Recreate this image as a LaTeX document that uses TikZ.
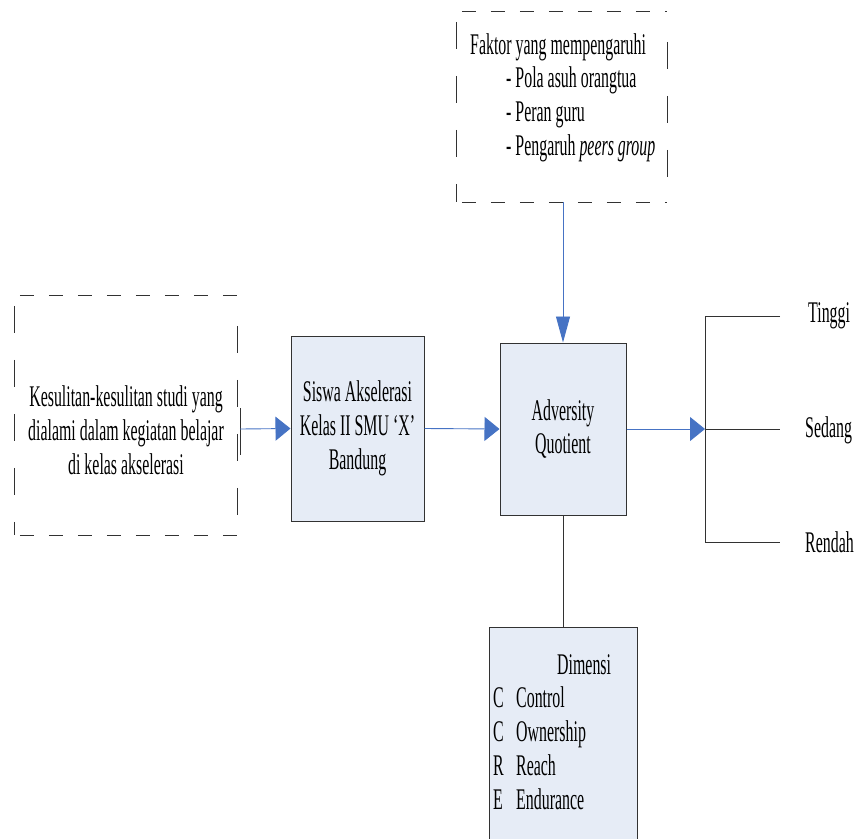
\documentclass[tikz,border=0pt]{standalone}
\usepackage{fontspec}
\setmainfont{Liberation Serif}[FakeStretch=0.53]
\usetikzlibrary{arrows.meta,calc}
\definecolor{boxfill}{RGB}{230,236,246}
\definecolor{arrowblue}{RGB}{70,115,196}
\definecolor{edgegray}{RGB}{50,50,50}
\tikzset{
  txt/.style={inner sep=0pt, font=\fontsize{30}{33.75}\selectfont},
  solidbox/.style={draw=edgegray, line width=1pt, fill=boxfill, inner sep=0pt},
  ghost/.style={inner sep=0pt},
  hdash/.style={draw=edgegray, line width=1pt, dash pattern=on 14pt off 15pt},
  vdash/.style={draw=edgegray, line width=1pt, dash pattern=on 27pt off 27pt},
  harrow/.style={draw=arrowblue, line width=0.9pt, -{Triangle[length=15pt,width=24pt,fill=arrowblue]}},
  varrow/.style={draw=arrowblue, line width=0.9pt, -{Triangle[length=26pt,width=14pt,fill=arrowblue]}},
  plain/.style={draw=edgegray, line width=1pt}
}
\begin{document}
\begin{tikzpicture}[x=1pt,y=-1pt]
\useasboundingbox (0,0) rectangle (856,838);
% dashed boxes (frames only)
\node[ghost, minimum width=210pt, minimum height=190pt] (faktor) at (562,107) {};
\node[ghost, minimum width=222pt, minimum height=239pt] (kes) at (126,415.5) {};
\foreach \b in {faktor,kes}{
  \draw[hdash] ($(\b.north west)+(5,0)$) -- (\b.north east);
  \draw[hdash] ($(\b.south west)+(5,0)$) -- (\b.south east);
  \draw[vdash] ($(\b.north west)+(0,10)$) -- (\b.south west);
  \draw[vdash] ($(\b.north east)+(0,30)$) -- (\b.south east);
}
% texts of dashed boxes
\node[txt, anchor=west, align=left] (faktortext) at (470,97.5)
  {Faktor yang mempengaruhi\\
   \hspace*{36pt}- Pola asuh orangtua\\
   \hspace*{36pt}- Peran guru\\
   \hspace*{36pt}- Pengaruh \textit{peers group}};
\node[txt, align=center] (kestext) at (126,430)
  {Kesulitan-kesulitan studi yang\\dialami dalam kegiatan belajar\\di kelas akselerasi};
% solid boxes
\node[solidbox, minimum width=133pt, minimum height=185pt] (siswa) at (357.5,428.5) {};
\node[txt, align=center] (siswatext) at (siswa.center) {Siswa Akselerasi\\Kelas II SMU ‘X’\\Bandung};
\node[solidbox, minimum width=126pt, minimum height=172pt] (aq) at (563,429) {};
\node[txt, align=center] (aqtext) at (aq.center) {Adversity\\Quotient};
\node[solidbox, minimum width=148pt, minimum height=240pt] (dim) at (563,747) {};
\node[txt, anchor=north west, align=left] (dimtext) at (493,654)
  {\hspace*{64pt}Dimensi\\
   \makebox[23pt][l]{C}Control\\
   \makebox[23pt][l]{C}Ownership\\
   \makebox[23pt][l]{R}Reach\\
   \makebox[23pt][l]{E}Endurance};
% bracket
\coordinate (kesout) at (240,429);
\coordinate (kestop) at (240,408);
\coordinate (kesbot) at (240,455);
\coordinate (brmid) at (705,429);
\coordinate (brtop) at (705,316);
\coordinate (brbot) at (705,542);
\coordinate (tend) at (780,316);
\coordinate (send) at (780,429);
\coordinate (rend) at (780,542);
\node[txt, anchor=west] (tinggi) at (808,316) {Tinggi};
\node[txt, anchor=west] (sedang) at (805,430) {Sedang};
\node[txt, anchor=west] (rendah) at (805,542) {Rendah};
% connectors
\draw[plain] (kestop) -- (kesbot);
\draw[harrow] (kesout) -- (siswa.west);
\draw[harrow] (siswa.east) -- (aq.west);
\draw[varrow] (aq.north |- faktor.south) -- (aq.north);
\draw[harrow] (aq.east) -- (brmid);
\draw[plain] (tend) -- (brtop) -- (brbot) -- (rend);
\draw[plain] (brmid) -- (send);
\draw[plain] (aq.south) -- (dim.north);
\end{tikzpicture}
\end{document}
